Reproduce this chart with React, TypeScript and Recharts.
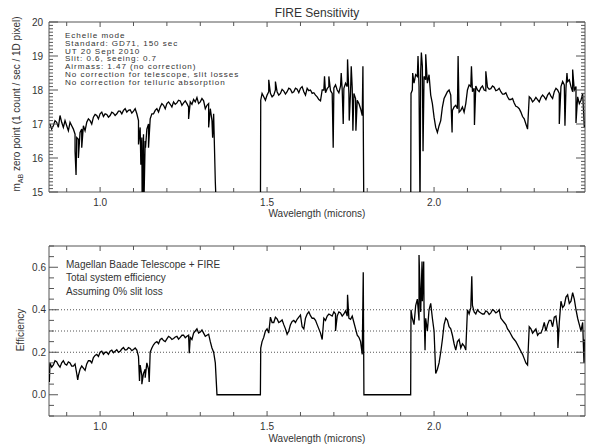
import React from 'react';
import { LineChart, Line, XAxis, YAxis, ReferenceLine, ReferenceArea } from 'recharts';

// wavelength grid (microns), shared by both panels
const wavelength = [
  0.85, 0.86, 0.87, 0.88, 0.89, 0.90, 0.91, 0.92, 0.93, 0.94,
  0.95, 0.96, 0.97, 0.98, 0.99, 1.00, 1.01, 1.02, 1.03, 1.04,
  1.05, 1.06, 1.07, 1.08, 1.09, 1.10, 1.11, 1.12, 1.13, 1.14,
  1.15, 1.16, 1.17, 1.18, 1.19, 1.20, 1.21, 1.22, 1.23, 1.24,
  1.25, 1.26, 1.27, 1.28, 1.29, 1.30, 1.31, 1.32, 1.33, 1.34,
  1.345, 1.35, 1.40, 1.48, 1.481,
  1.49, 1.50, 1.51, 1.52, 1.53, 1.54, 1.55, 1.56, 1.57, 1.58,
  1.59, 1.60, 1.61, 1.62, 1.63, 1.64, 1.65, 1.66, 1.665, 1.67,
  1.68, 1.69, 1.70, 1.71, 1.72, 1.73, 1.74, 1.75, 1.76, 1.77,
  1.78, 1.785, 1.79, 1.85, 1.93, 1.931,
  1.94, 1.95, 1.96, 1.97, 1.98, 1.99, 2.00, 2.01, 2.02, 2.03,
  2.04, 2.05, 2.06, 2.07, 2.08, 2.09, 2.10, 2.11, 2.12, 2.13,
  2.14, 2.15, 2.16, 2.17, 2.18, 2.19, 2.20, 2.21, 2.22, 2.23,
  2.24, 2.25, 2.26, 2.27, 2.28, 2.285, 2.29, 2.30, 2.31, 2.32,
  2.33, 2.34, 2.35, 2.36, 2.37, 2.38, 2.39, 2.40, 2.41, 2.42,
  2.43, 2.44, 2.45,
];

// m_AB zero point (null = no data between orders)
const zeroPoint = [
  17.00, 16.95, 17.05, 17.25, 16.90, 16.95, 17.05, 16.85, 16.60, 16.75,
  16.95, 17.05, 17.10, 17.20, 17.25, 17.30, 17.22, 17.28, 17.25, 17.32,
  17.30, 17.38, 17.40, 17.35, 17.42, 17.38, 17.30, 16.90, 16.70, 16.85,
  17.15, 17.30, 17.45, 17.50, 17.55, 17.60, 17.58, 17.65, 17.62, 17.68,
  17.62, 17.60, 17.65, 17.72, 17.78, 17.65, 17.68, 17.55, 17.45, 17.30,
  15.3, 14.0, null, 14.0, 17.7,
  17.80, 17.85, 17.90, 17.85, 17.95, 17.90, 17.97, 17.95, 18.02, 17.95,
  18.02, 18.05, 17.95, 18.05, 18.00, 17.92, 17.80, 17.68, 18.00, 18.00,
  18.04, 17.98, 18.06, 18.00, 18.12, 18.05, 18.10, 17.95, 17.90, 17.70,
  17.45, 17.25, 14.0, null, 14.0, 17.9,
  18.20, 18.40, 18.55, 18.40, 18.20, 17.85, 17.20, 16.75, 17.10, 17.75,
  17.95, 17.85, 17.50, 17.45, 17.40, 17.35, 18.00, 18.10, 18.05, 18.00,
  18.06, 18.00, 18.08, 18.04, 18.08, 18.00, 17.95, 17.88, 17.80, 17.72,
  17.62, 17.50, 17.35, 17.15, 16.85, 17.80, 17.75, 17.70, 17.72, 17.78,
  17.80, 17.85, 17.82, 17.95, 18.00, 18.10, 18.15, 18.25, 18.10, 18.00,
  17.80, 17.70, 16.90,
];

// total system efficiency
const efficiency = [
  0.150, 0.140, 0.155, 0.130, 0.160, 0.140, 0.150, 0.135, 0.100, 0.120,
  0.125, 0.145, 0.160, 0.175, 0.190, 0.200, 0.190, 0.200, 0.205, 0.198,
  0.212, 0.205, 0.222, 0.212, 0.218, 0.213, 0.210, 0.140, 0.100, 0.150,
  0.200, 0.235, 0.250, 0.260, 0.255, 0.263, 0.270, 0.265, 0.275, 0.270,
  0.280, 0.275, 0.270, 0.290, 0.310, 0.295, 0.290, 0.280, 0.250, 0.200,
  0.150, 0.0, 0.0, 0.0, 0.220,
  0.270, 0.310, 0.365, 0.340, 0.357, 0.345, 0.330, 0.285, 0.330, 0.350,
  0.355, 0.375, 0.310, 0.380, 0.372, 0.360, 0.330, 0.290, 0.260, 0.360,
  0.370, 0.375, 0.390, 0.370, 0.385, 0.380, 0.370, 0.355, 0.340, 0.280,
  0.250, 0.190, 0.0, 0.0, 0.0, 0.400,
  0.330, 0.450, 0.390, 0.400, 0.300, 0.430, 0.300, 0.120, 0.200, 0.330,
  0.350, 0.310, 0.240, 0.250, 0.220, 0.230, 0.400, 0.410, 0.390, 0.400,
  0.385, 0.380, 0.390, 0.385, 0.395, 0.390, 0.360, 0.340, 0.310, 0.285,
  0.260, 0.235, 0.205, 0.170, 0.140, 0.320, 0.310, 0.300, 0.280, 0.290,
  0.340, 0.330, 0.350, 0.365, 0.310, 0.440, 0.420, 0.470, 0.440, 0.450,
  0.360, 0.300, 0.260,
];

// in-between samples (pixel-to-pixel scatter)
const midWave = [
  0.855, 0.865, 0.875, 0.885, 0.895, 0.905, 0.915, 0.925, 0.935, 0.945,
  0.955, 0.965, 0.975, 0.985, 0.995, 1.005, 1.015, 1.025, 1.035, 1.045,
  1.055, 1.065, 1.075, 1.085, 1.095, 1.105, 1.115, 1.125, 1.135, 1.145,
  1.155, 1.165, 1.175, 1.185, 1.195, 1.205, 1.215, 1.225, 1.235, 1.245,
  1.255, 1.265, 1.275, 1.285, 1.295, 1.305, 1.315, 1.325, 1.335,
  1.485, 1.495, 1.505, 1.515, 1.525, 1.535, 1.545, 1.555, 1.565, 1.575,
  1.585, 1.595, 1.605, 1.615, 1.625, 1.635, 1.645, 1.655, 1.675, 1.685,
  1.695, 1.705, 1.715, 1.725, 1.735, 1.745, 1.755, 1.765, 1.775,
  1.935, 1.945, 1.955, 1.965, 1.975, 1.985, 1.995, 2.005, 2.015, 2.025,
  2.035, 2.045, 2.055, 2.065, 2.075, 2.085, 2.095, 2.105, 2.115, 2.125,
  2.135, 2.145, 2.155, 2.165, 2.175, 2.185, 2.195, 2.205, 2.215, 2.225,
  2.235, 2.245, 2.255, 2.265, 2.275, 2.295, 2.305, 2.315, 2.325, 2.335,
  2.345, 2.355, 2.365, 2.375, 2.385, 2.395, 2.405, 2.415, 2.425, 2.435,
  2.445,
];
const midZeroPoint = [
  16.85, 17.10, 16.90, 17.05, 17.10, 16.80, 16.95, 16.70, 16.55, 16.85,
  16.80, 17.15, 17.00, 17.28, 17.15, 17.35, 17.30, 17.20, 17.35, 17.25,
  17.38, 17.30, 17.45, 17.40, 17.32, 17.45, 17.10, 16.60, 16.50, 17.00,
  17.30, 17.40, 17.35, 17.60, 17.45, 17.65, 17.50, 17.58, 17.70, 17.55,
  17.68, 17.50, 17.58, 17.65, 17.60, 17.75, 17.45, 17.60, 17.10,
  17.90, 17.70, 17.95, 17.80, 18.00, 17.85, 18.02, 17.88, 18.05, 17.92,
  18.05, 17.92, 18.10, 17.85, 17.98, 17.90, 17.85, 17.72, 17.92, 18.10,
  17.90, 18.15, 17.92, 18.00, 18.20, 17.90, 18.05, 17.75, 17.60,
  18.00, 18.45, 18.10, 18.70, 18.30, 18.45, 17.60, 16.90, 16.95, 17.50,
  17.85, 18.00, 17.40, 17.55, 17.35, 17.50, 17.60, 18.15, 17.95, 18.12,
  17.95, 18.12, 17.98, 18.02, 18.12, 17.98, 18.05, 17.88, 17.92, 17.72,
  17.75, 17.52, 17.45, 17.22, 17.00, 17.65, 17.78, 17.65, 17.85, 17.72,
  17.92, 17.75, 18.05, 17.90, 18.25, 18.05, 18.30, 17.95, 18.10, 17.60,
  17.90,
];
const midEfficiency = [
  0.130, 0.160, 0.140, 0.150, 0.145, 0.155, 0.135, 0.145, 0.090, 0.135,
  0.115, 0.160, 0.150, 0.185, 0.180, 0.205, 0.200, 0.190, 0.210, 0.205,
  0.200, 0.215, 0.210, 0.222, 0.208, 0.220, 0.180, 0.090, 0.120, 0.120,
  0.220, 0.245, 0.240, 0.265, 0.250, 0.275, 0.260, 0.272, 0.262, 0.280,
  0.268, 0.280, 0.260, 0.300, 0.290, 0.305, 0.275, 0.285, 0.220,
  0.250, 0.300, 0.290, 0.340, 0.365, 0.340, 0.352, 0.310, 0.300, 0.345,
  0.340, 0.365, 0.320, 0.360, 0.390, 0.360, 0.350, 0.310, 0.350, 0.380,
  0.370, 0.380, 0.390, 0.370, 0.395, 0.360, 0.370, 0.310, 0.270,
  0.360, 0.420, 0.350, 0.440, 0.360, 0.400, 0.360, 0.100, 0.150, 0.260,
  0.360, 0.320, 0.280, 0.210, 0.260, 0.240, 0.210, 0.380, 0.420, 0.380,
  0.390, 0.380, 0.395, 0.378, 0.400, 0.385, 0.400, 0.350, 0.330, 0.300,
  0.270, 0.250, 0.220, 0.190, 0.150, 0.290, 0.310, 0.290, 0.310, 0.300,
  0.350, 0.320, 0.370, 0.340, 0.410, 0.460, 0.430, 0.480, 0.400, 0.330,
  0.340,
];

// narrow features (telluric lines, sky residuals)
const zpSpikeWave = [
  0.925, 0.928, 0.935, 0.945, 1.115, 1.122, 1.126, 1.131, 1.136, 1.145,
  1.265, 1.325, 1.337, 1.505, 1.525, 1.672, 1.685, 1.698, 1.722, 1.728,
  1.741, 1.746, 1.752, 1.757, 1.766, 1.787, 1.936, 1.952, 1.958, 1.962,
  1.967, 1.975, 2.054, 2.072, 2.112, 2.121, 2.155, 2.375, 2.392, 2.398,
  2.415, 2.425,
];
const zpSpikes = [
  16.2, 15.5, 16.0, 16.3, 16.4, 15.8, 14.5, 14.5, 16.3, 16.3,
  17.15, 16.9, 16.6, 18.3, 18.25, 18.4, 18.4, 16.3, 18.5, 17.0,
  18.9, 17.1, 18.7, 16.8, 16.8, 18.7, 18.5, 19.0, 14.5, 19.1,
  16.2, 19.05, 16.75, 19.0, 18.7, 16.97, 18.55, 17.0, 16.95, 18.5,
  18.6, 17.03,
];
const effSpikeWave = [
  0.848, 0.933, 1.118, 1.125, 1.135, 1.147, 1.267, 1.705, 1.741, 1.788,
  1.955, 1.964, 1.969, 1.973, 2.113, 2.371, 2.449,
];
const effSpikes = [
  0.06, 0.07, 0.065, 0.05, 0.08, 0.06, 0.195, 0.30, 0.47, 0.576,
  0.658, 0.627, 0.627, 0.21, 0.557, 0.22, 0.15,
];

const xLabels = [1.0, 1.5, 2.0];
const xTicks = [0.9, 1.0, 1.1, 1.2, 1.3, 1.4, 1.5, 1.6, 1.7, 1.8, 1.9, 2.0, 2.1, 2.2, 2.3, 2.4];
const zpLabels = [15, 16, 17, 18, 19, 20];
const effLabels = [0.0, 0.2, 0.4, 0.6];
const effTicks = [-0.1, -0.05, 0.0, 0.05, 0.1, 0.15, 0.2, 0.25, 0.3, 0.35, 0.4, 0.45, 0.5, 0.55, 0.6, 0.65, 0.7];
const effLevels = [0.2, 0.3, 0.4];

const topNotes = [
  'Echelle mode',
  'Standard: GD71, 150 sec',
  'UT 20 Sept 2010',
  'Slit: 0.6, seeing: 0.7',
  'Airmass: 1.47 (no correction)',
  'No correction for telescope, slit losses',
  'No correction for telluric absorption',
];
const bottomNotes = [
  'Magellan Baade Telescope + FIRE',
  'Total system efficiency',
  'Assuming 0% slit loss',
];

const X_DOMAIN = [0.847, 2.452];
const W = 595;
const H = 223;
const PLOT_W = 536;
const PLOT_H = 170;
const AXIS = '#555';
const INK = '#333';
const FONT = '"Liberation Sans", Arial, sans-serif';

// minor ticks every 0.1 mag on the zero-point axis
const zpTicks: number[] = [];
for (let i = 0; i <= 50; i++) zpTicks.push(Math.round((15 + i * 0.1) * 10) / 10);

function buildRows(
  w: number[], v: (number | null)[],
  mw: number[], mv: number[],
  sw: number[], sv: number[],
) {
  const rows = w.map((x, i) => ({ w: x, v: v[i] }));
  mw.forEach((x, i) => rows.push({ w: x, v: mv[i] }));
  sw.forEach((x, i) => rows.push({ w: x, v: sv[i] }));
  rows.sort((a, b) => a.w - b.w);
  return rows;
}

const zpData = buildRows(wavelength, zeroPoint, midWave, midZeroPoint, zpSpikeWave, zpSpikes);
const effData = buildRows(wavelength, efficiency, midWave, midEfficiency, effSpikeWave, effSpikes);

const r2 = (n: number) => Math.round(n * 100) / 100;

// IDL-style ticks: pointing into the box, mirrored on the opposite side
const XTick = (props: any) => {
  const { x, y, payload } = props;
  const v = r2(payload.value);
  const major = xLabels.includes(v);
  const len = major ? 5 : 4;
  return (
    <g>
      <line x1={x} x2={x} y1={y} y2={y - len} stroke={AXIS} />
      <line x1={x} x2={x} y1={y - PLOT_H} y2={y - PLOT_H + len} stroke={AXIS} />
      {major && (
        <text x={x} y={y + 14} textAnchor="middle" fontSize={10} fontFamily={FONT} fill={INK}>
          {v.toFixed(1)}
        </text>
      )}
    </g>
  );
};

const makeYTick = (labels: number[], fmt: (v: number) => string, gap: number, majLen: number, minLen: number) =>
  (props: any) => {
    const { x, y, payload } = props;
    const v = r2(payload.value);
    const major = labels.includes(v);
    const len = major ? majLen : minLen;
    return (
      <g>
        <line x1={x} x2={x + len} y1={y} y2={y} stroke={AXIS} />
        <line x1={x + PLOT_W} x2={x + PLOT_W - len} y1={y} y2={y} stroke={AXIS} />
        {major && (
          <text x={x - gap} y={y + 3.5} textAnchor="end" fontSize={10} fontFamily={FONT} fill={INK}>
            {fmt(v)}
          </text>
        )}
      </g>
    );
  };

const ZpTick = makeYTick(zpLabels, (v) => String(v), 6, 9, 4);
const EffTick = makeYTick(effLabels, (v) => v.toFixed(1), 3, 9, 5);

const App: React.FC = () => {
  return (
    <div style={{ position: 'absolute', left: 0, top: 0, width: W, height: 446, background: '#fff' }}>
      <div style={{ position: 'absolute', left: 0, top: 0 }}>
        <LineChart width={W} height={H} data={zpData} margin={{ top: 22, right: 10, bottom: 1, left: 9 }}>
          <XAxis
            dataKey="w"
            type="number"
            domain={X_DOMAIN}
            ticks={xTicks}
            interval={0}
            tick={XTick}
            tickSize={0}
            tickMargin={0}
            axisLine={false}
            height={30}
            allowDataOverflow
          />
          <YAxis
            type="number"
            domain={[15, 20]}
            ticks={zpTicks}
            interval={0}
            tick={ZpTick}
            tickSize={0}
            tickMargin={0}
            axisLine={false}
            width={40}
            allowDataOverflow
          />
          <ReferenceArea x1={X_DOMAIN[0]} x2={X_DOMAIN[1]} y1={15} y2={20} fill="none" stroke={AXIS} strokeWidth={1} />
          <Line
            dataKey="v"
            type="linear"
            stroke="#000"
            strokeWidth={1.3}
            dot={false}
            connectNulls={false}
            isAnimationActive={false}
          />
        </LineChart>
      </div>
      <div style={{ position: 'absolute', left: 0, top: H }}>
        <LineChart width={W} height={H} data={effData} margin={{ top: 23, right: 10, bottom: 0, left: 9 }}>
          <XAxis
            dataKey="w"
            type="number"
            domain={X_DOMAIN}
            ticks={xTicks}
            interval={0}
            tick={XTick}
            tickSize={0}
            tickMargin={0}
            axisLine={false}
            height={30}
            allowDataOverflow
          />
          <YAxis
            type="number"
            domain={[-0.1, 0.7]}
            ticks={effTicks}
            interval={0}
            tick={EffTick}
            tickSize={0}
            tickMargin={0}
            axisLine={false}
            width={40}
            allowDataOverflow
          />
          {effLevels.map((lv) => (
            <ReferenceLine key={lv} y={lv} stroke={AXIS} strokeDasharray="1 2" />
          ))}
          <ReferenceArea x1={X_DOMAIN[0]} x2={X_DOMAIN[1]} y1={-0.1} y2={0.7} fill="none" stroke={AXIS} strokeWidth={1} />
          <Line
            dataKey="v"
            type="linear"
            stroke="#000"
            strokeWidth={1.3}
            dot={false}
            isAnimationActive={false}
          />
        </LineChart>
      </div>
      <svg
        width={W}
        height={446}
        style={{ position: 'absolute', left: 0, top: 0, pointerEvents: 'none' }}
        fontFamily={FONT}
        fill={INK}
      >
        <text x={317} y={17} textAnchor="middle" fontSize={12}>FIRE Sensitivity</text>
        {topNotes.map((t, i) => (
          <text key={t} x={65} y={37.6 + i * 7.95} fontSize={8.1} letterSpacing={0.95}>{t}</text>
        ))}
        <text x={317} y={217} textAnchor="middle" fontSize={10}>Wavelength (microns)</text>
        <text transform="translate(20,104) rotate(-90)" textAnchor="middle" fontSize={10}>
          m<tspan fontSize={7} dy={2.5}>AB</tspan>
          <tspan dy={-2.5}> zero point (1 count / sec / 1D pixel)</tspan>
        </text>
        {bottomNotes.map((t, i) => (
          <text key={t} x={66} y={267.6 + i * 13.6} fontSize={10}>{t}</text>
        ))}
        <text x={317} y={442} textAnchor="middle" fontSize={10}>Wavelength (microns)</text>
        <text transform="translate(24,330) rotate(-90)" textAnchor="middle" fontSize={10}>Efficiency</text>
      </svg>
    </div>
  );
};

export default App;
